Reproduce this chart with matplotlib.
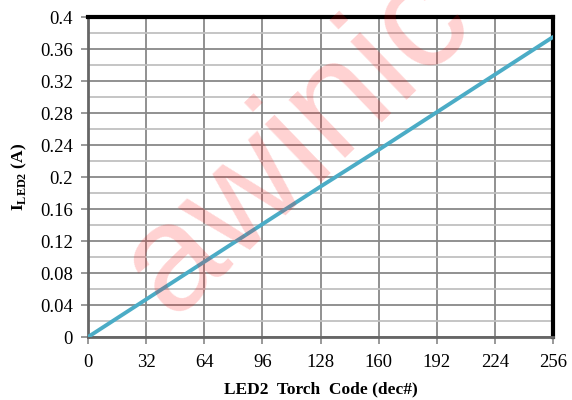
import matplotlib
matplotlib.use("Agg")
import matplotlib.pyplot as plt
import numpy as np

codes = [0, 32, 64, 96, 128, 160, 192, 224, 256]
current = [0.0, 0.047, 0.094, 0.141, 0.188, 0.234, 0.281, 0.328, 0.375]
xticks = [0, 32, 64, 96, 128, 160, 192, 224, 256]
yticks = [0, 0.04, 0.08, 0.12, 0.16, 0.2, 0.24, 0.28, 0.32, 0.36, 0.4]
ytick_labels = ["0", "0.04", "0.08", "0.12", "0.16", "0.2", "0.24", "0.28", "0.32", "0.36", "0.4"]

plt.rcParams['font.family'] = ['Liberation Serif', 'DejaVu Serif']
plt.rcParams['mathtext.fontset'] = 'custom'
plt.rcParams['mathtext.rm'] = 'Liberation Serif'
plt.rcParams['mathtext.bf'] = 'Liberation Serif:bold'

fig = plt.figure(figsize=(5.72, 4.0), dpi=100)
ax = fig.add_axes([88/572, 1-337/400, (553-88)/572, (337-17)/400])

ax.set_xlim(0, 256)
ax.set_ylim(0, 0.4)
ax.set_xticks(xticks)
ax.set_yticks(yticks)
ax.set_yticklabels(ytick_labels)
ax.set_yticks(np.arange(0.02, 0.4, 0.04), minor=True)
ax.tick_params(axis='y', which='minor', length=0)
ax.tick_params(axis='both', which='major', labelsize=13.5, length=5, color='#888888', width=1.2, direction='out')
ax.tick_params(axis='x', pad=7)
ax.tick_params(axis='y', pad=6)

ax.grid(True, which='major', color='#888888', linewidth=1.3)
ax.grid(True, which='minor', axis='y', color='#c0c0c0', linewidth=1.3)
ax.set_axisbelow(True)

for s in ['top', 'right']:
    ax.spines[s].set_color('black')
    ax.spines[s].set_linewidth(3)
for s in ['left', 'bottom']:
    ax.spines[s].set_color('#666666')
    ax.spines[s].set_linewidth(2)

ax.plot(codes, current, color='#4bacc6', linewidth=2.8, zorder=3, solid_capstyle='round')

ax.set_xlabel('LED2  Torch  Code (dec#)', fontsize=12.5, fontweight='bold', labelpad=8)
ax.set_ylabel(r'I$_{\mathbf{LED2}}$ (A)', fontsize=12.5, fontweight='bold', labelpad=8)

fig.text(0.52, 0.64, 'awinic', fontsize=110, color='#ff0000', alpha=0.18,
         family='Liberation Sans', rotation=44, ha='center', va='center', zorder=10)

fig.savefig('out.png', dpi=100)
